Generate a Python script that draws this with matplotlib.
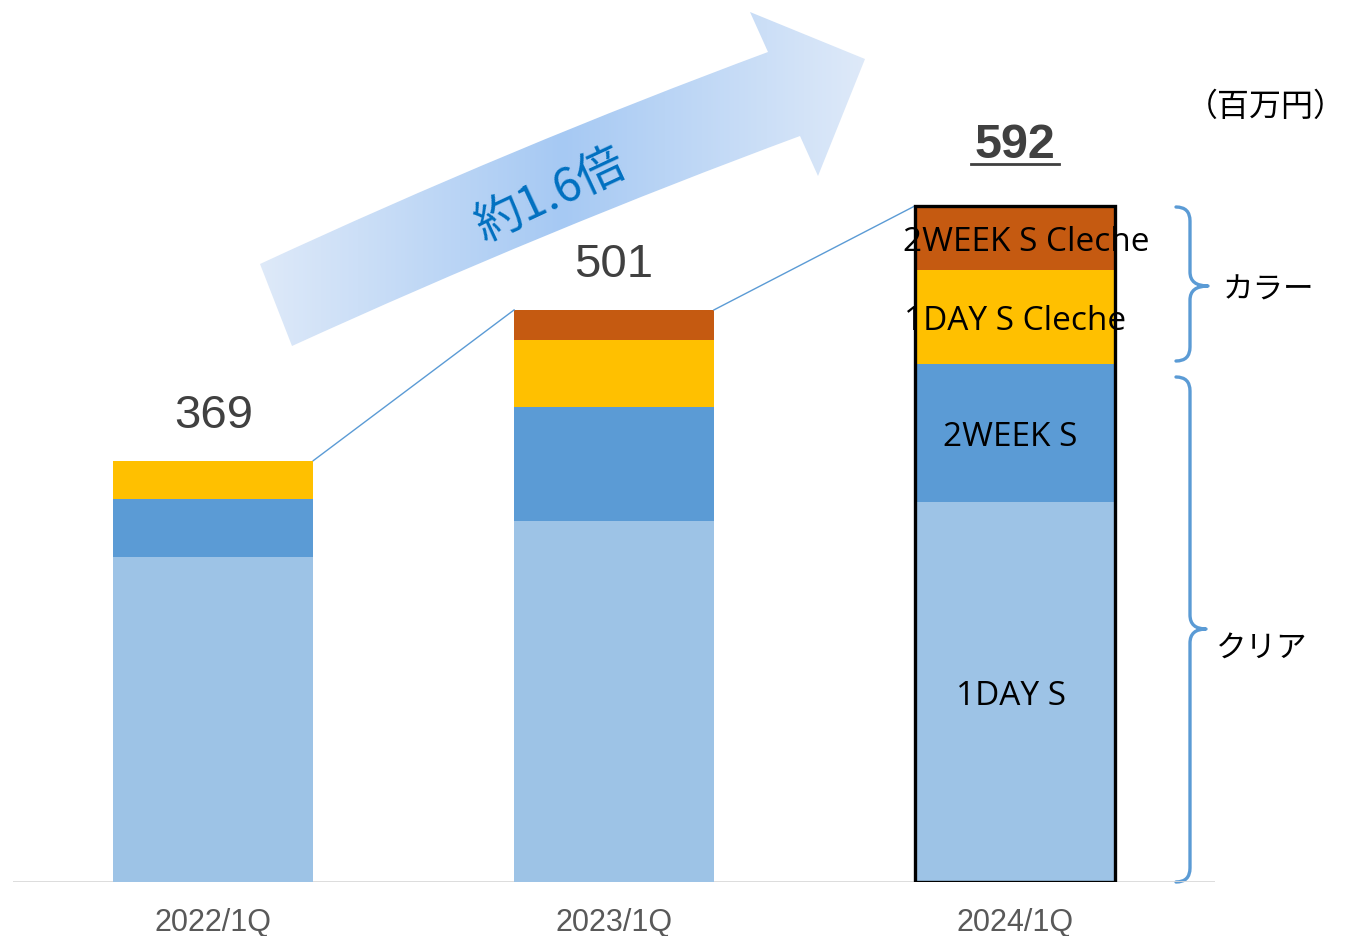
import numpy as np
import matplotlib
matplotlib.use("Agg")
import matplotlib.pyplot as plt
from matplotlib.path import Path
from matplotlib.patches import PathPatch
from matplotlib.colors import LinearSegmentedColormap

# ---------------- data ----------------
quarters = ['2022/1Q', '2023/1Q', '2024/1Q']
day_s = [285, 316, 333]          # 1DAY S (clear)
week_s = [50, 100, 121]          # 2WEEK S (clear)
day_cleche = [34, 59, 82]        # 1DAY S Cleche (color)
week_cleche = [0, 26, 56]        # 2WEEK S Cleche (color)
totals = [369, 501, 592]
series_names = ['1DAY S', '2WEEK S', '1DAY S Cleche', '2WEEK S Cleche']
growth_label = '約1.6倍'
unit_label = '（百万円）'
group_labels = ['カラー', 'クリア']

colors = ['#9dc3e6', '#5b9bd5', '#ffc000', '#c55a11']
JP = ['Noto Sans CJK JP', 'DejaVu Sans']
LAT = ['Open Sans', 'DejaVu Sans']
NUM = ['Liberation Sans', 'DejaVu Sans']

W, H = 1345, 937
fig = plt.figure(figsize=(W / 100, H / 100), dpi=100)

base_px = 883
ax = fig.add_axes([13 / W, (H - base_px) / H, (1215 - 13) / W, base_px / H], zorder=2)
ax.set_xlim(-0.5, 2.5)
ax.set_ylim(0, 773.3)
ax.patch.set_visible(False)
for s in ax.spines.values():
    s.set_visible(False)
ax.set_yticks([])

x = np.arange(len(quarters))
bw = 0.4988
bottom = np.zeros(len(quarters))
for vals, c in zip([day_s, week_s, day_cleche, week_cleche], colors):
    ax.bar(x, vals, bw, bottom=bottom, color=c, edgecolor='none', zorder=2)
    bottom += np.array(vals)

# black frame on last bar
ax.bar(x[-1], totals[-1], bw, color='none', edgecolor='black', linewidth=2.4, zorder=4)

# baseline
ax.axhline(0, color='#d9d9d9', linewidth=2, zorder=1)

# connectors between bar tops
for i in range(len(quarters) - 1):
    ax.plot([x[i] + bw / 2, x[i + 1] - bw / 2], [totals[i], totals[i + 1]],
            color='#5b9bd5', linewidth=1, zorder=3)

# total labels
for i, t in enumerate(totals):
    if i == len(totals) - 1:
        ax.annotate(str(t), (x[i], t), xytext=(0, 44), textcoords='offset points',
                    ha='center', va='center', fontsize=35, fontweight='bold',
                    color='#404040', family=NUM)
    else:
        ax.annotate(str(t), (x[i], t), xytext=(0, 33), textcoords='offset points',
                    ha='center', va='center', fontsize=34, color='#404040', family=NUM)

# segment labels on last bar
segs = [day_s[-1], week_s[-1], day_cleche[-1], week_cleche[-1]]
cum = np.cumsum([0] + segs)
xoff = [-0.01, -0.01, 0.0, 0.03]
for name, lo, hi, dx in zip(series_names, cum[:-1], cum[1:], xoff):
    ax.text(x[-1] + dx, (lo + hi) / 2, name, ha='center', va='center_baseline',
            fontsize=24, color='black', family=LAT, zorder=5)

ax.set_xticks(x)
ax.set_xticklabels(quarters, fontsize=22, color='#595959', family=NUM)
ax.tick_params(axis='x', length=0, pad=18)

# ---------------- overlay (pixel coordinates) ----------------
ov = fig.add_axes([0, 0, 1, 1], zorder=1)
ov.set_xlim(0, W)
ov.set_ylim(H, 0)
ov.axis('off')
ov.patch.set_alpha(0)

# gradient arrow
verts = [(260, 265), (512, 148), (768, 53), (750, 13), (865, 60), (818, 177),
         (800, 137), (546, 231), (292, 347), (260, 265)]
codes = [Path.MOVETO, Path.CURVE3, Path.CURVE3, Path.LINETO, Path.LINETO,
         Path.LINETO, Path.LINETO, Path.CURVE3, Path.CURVE3, Path.CLOSEPOLY]
arrow_path = Path(verts, codes)
patch = PathPatch(arrow_path, facecolor='none', edgecolor='none')
ov.add_patch(patch)
cmap = LinearSegmentedColormap.from_list(
    'g', [(0.0, '#dfeaf9'), (0.5, '#a6c9f3'), (1.0, '#dfeaf9')])
grad = np.linspace(0, 1, 256)[None, :]
im = ov.imshow(grad, cmap=cmap, aspect='auto', extent=(255, 870, 352, 8),
               interpolation='bilinear', zorder=1)
im.set_clip_path(patch)
ov.text(551, 195, growth_label, rotation=25, ha='center', va='center',
        fontsize=34, color='#0070c0', family=JP, zorder=2)

# underline for 592
ov.plot([971, 1059], [165, 165], color='#404040', linewidth=2)


def brace(x0, xv, xt, y0, y1, ym, r=14):
    v = [(x0, y0), (xv, y0), (xv, y0 + r),
         (xv, ym - r),
         (xv, ym), (xt, ym),
         (xv, ym), (xv, ym + r),
         (xv, y1 - r),
         (xv, y1), (x0, y1)]
    c = [Path.MOVETO, Path.CURVE3, Path.CURVE3,
         Path.LINETO,
         Path.CURVE3, Path.CURVE3,
         Path.CURVE3, Path.CURVE3,
         Path.LINETO,
         Path.CURVE3, Path.CURVE3]
    ov.add_patch(PathPatch(Path(v, c), facecolor='none', edgecolor='#5b9bd5',
                           linewidth=2.4, capstyle='round', joinstyle='round'))


brace(1176, 1190, 1208, 208, 362, 287)
brace(1176, 1190, 1206, 378, 883, 630)

ov.text(1268, 290, group_labels[0], ha='center', va='center', fontsize=22,
        color='black', family=JP)
ov.text(1262, 648, group_labels[1], ha='center', va='center', fontsize=22,
        color='black', family=JP)
ov.text(1266, 107, unit_label, ha='center', va='center', fontsize=23,
        color='black', family=JP)

fig.savefig('out.png', dpi=100)
